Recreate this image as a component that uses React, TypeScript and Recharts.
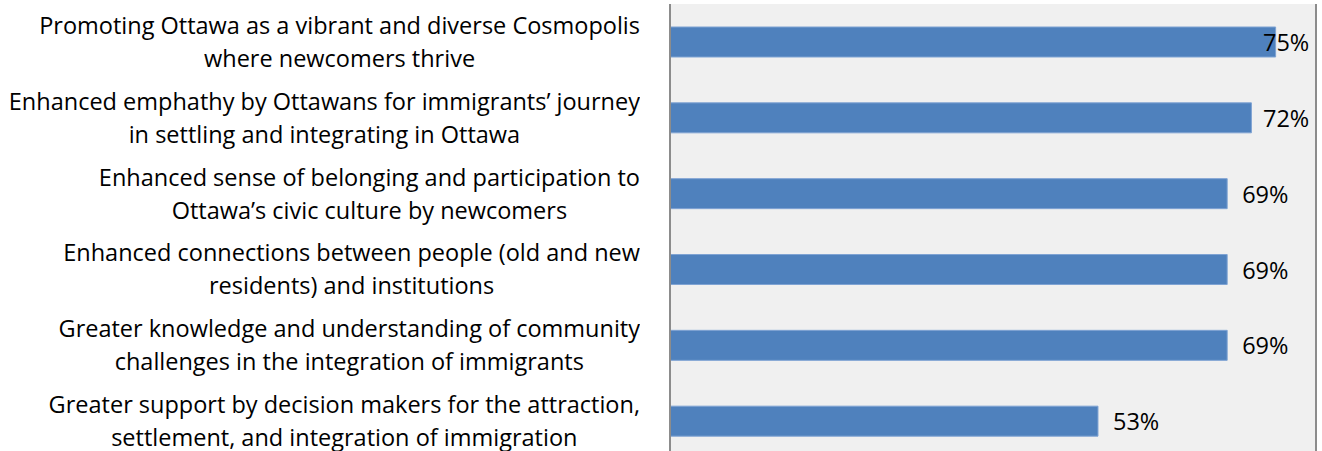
import React from "react";
import { BarChart, Bar, XAxis, YAxis, CartesianGrid, LabelList, ReferenceLine } from "recharts";

const categories: string[] = [
  "Promoting Ottawa as a vibrant and diverse Cosmopolis\nwhere newcomers thrive",
  "Enhanced emphathy by Ottawans for immigrants’ journey\nin settling and integrating in Ottawa",
  "Enhanced sense of belonging and participation to\nOttawa’s civic culture by newcomers",
  "Enhanced connections between people (old and new\nresidents) and institutions",
  "Greater knowledge and understanding of community\nchallenges in the integration of immigrants",
  "Greater support by decision makers for the attraction,\nsettlement, and integration of immigration",
];
const values: number[] = [75, 72, 69, 69, 69, 53];
const DOMAIN_MAX = 80;

const data = categories.map((c, i) => ({ name: c, value: values[i] }));

const FONT = "'Open Sans', Lato, sans-serif";
const FONT_SIZE = 23.5;

const CategoryTick = (props: any) => {
  const { x, y, payload } = props;
  const w = x - 22;
  return (
    <foreignObject x={0} y={y - 40} width={w} height={80}>
      <div
        style={{
          width: "100%",
          height: "100%",
          display: "flex",
          alignItems: "center",
          justifyContent: "flex-end",
        }}
      >
        <div
          style={{
            whiteSpace: "pre-line",
            textAlign: "center",
            fontFamily: FONT,
            fontSize: FONT_SIZE,
            lineHeight: "33px",
            color: "#000",
          }}
        >
          {payload.value}
        </div>
      </div>
    </foreignObject>
  );
};

const ValueLabel = (props: any) => {
  const { x, y, width, height, value } = props;
  const plotRight = x + (width * DOMAIN_MAX) / value;
  const tx = Math.min(x + width + 15, plotRight - 53);
  return (
    <text
      x={tx}
      y={y + height / 2}
      dominantBaseline="central"
      textAnchor="start"
      fontFamily={FONT}
      fontSize={FONT_SIZE}
      fill="#000"
    >
      {`${value}%`}
    </text>
  );
};

export default function App() {
  return (
    <div style={{ position: "absolute", left: 0, top: 0, background: "#fff" }}>
      <BarChart
        width={1322}
        height={460}
        data={data}
        layout="vertical"
        margin={{ top: 4, right: 6, bottom: 1, left: 0 }}
        barSize={30}
      >
        <CartesianGrid horizontal={false} vertical={false} fill="#F0F0F0" />
        <XAxis type="number" domain={[0, DOMAIN_MAX]} hide />
        <YAxis
          type="category"
          dataKey="name"
          width={670}
          axisLine={{ stroke: "#8c8c8c", strokeWidth: 2 }}
          tickLine={false}
          tick={<CategoryTick />}
          interval={0}
        />
        <ReferenceLine x={DOMAIN_MAX} stroke="#8c8c8c" strokeWidth={2} />
        <Bar dataKey="value" fill="#4F81BD" stroke="#7FA3D3" strokeWidth={1} isAnimationActive={false}>
          <LabelList dataKey="value" content={<ValueLabel />} />
        </Bar>
      </BarChart>
    </div>
  );
}
